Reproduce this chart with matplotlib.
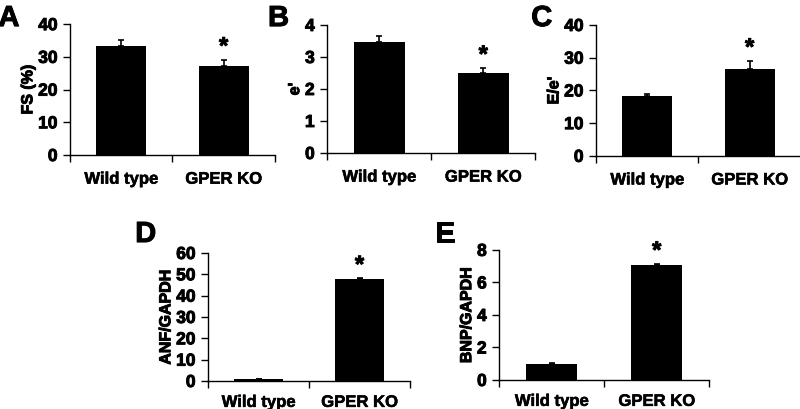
import matplotlib
matplotlib.use("Agg")
import matplotlib.pyplot as plt
import matplotlib.patheffects as pe
from matplotlib.ticker import FixedLocator, NullFormatter, FixedFormatter
from matplotlib.font_manager import FontProperties

plt.rcParams['font.family'] = ['Liberation Sans', 'DejaVu Sans']
plt.rcParams['font.weight'] = 'bold'
plt.rcParams['axes.labelweight'] = 'bold'

groups = ["Wild type", "GPER KO"]

fs_vals = [33.4, 27.1]
fs_err = [1.7, 2.0]
e_vals = [3.46, 2.51]
e_err = [0.21, 0.14]
ee_vals = [18.3, 26.6]
ee_err = [0.6, 2.4]
anf_vals = [1.0, 47.7]
anf_err = [0.1, 0.4]
bnp_vals = [1.0, 7.08]
bnp_err = [0.02, 0.05]

panels = [
    dict(letter="A", vals=fs_vals, err=fs_err, ylabel="FS (%)", ymax=40, yticks=[0, 10, 20, 30, 40],
         rect=[0.0875, 0.621, 0.256, 0.320], lpos=(-0.002, 0.99), pad=12),
    dict(letter="B", vals=e_vals, err=e_err, ylabel="e'", ymax=4, yticks=[0, 1, 2, 3, 4],
         rect=[0.409, 0.626, 0.260, 0.313], lpos=(0.335, 0.99), pad=12),
    dict(letter="C", vals=ee_vals, err=ee_err, ylabel="E/e'", ymax=40, yticks=[0, 10, 20, 30, 40],
         rect=[0.745, 0.619, 0.256, 0.320], lpos=(0.664, 0.99), pad=12),
    dict(letter="D", vals=anf_vals, err=anf_err, ylabel="ANF/GAPDH", ymax=60, yticks=[0, 10, 20, 30, 40, 50, 60],
         rect=[0.26, 0.0685, 0.2525, 0.313], lpos=(0.169, 0.462), pad=10),
    dict(letter="E", vals=bnp_vals, err=bnp_err, ylabel="BNP/GAPDH", ymax=8, yticks=[0, 2, 4, 6, 8],
         rect=[0.624, 0.071, 0.2625, 0.318], lpos=(0.544, 0.462), pad=10),
]

def fp(size):
    return FontProperties(family=['Liberation Sans', 'DejaVu Sans'], weight='bold', size=size)

heavy = [pe.withStroke(linewidth=0.7, foreground="black")]
light = [pe.withStroke(linewidth=0.4, foreground="black")]

fig = plt.figure(figsize=(8, 4.09), dpi=100)

for p in panels:
    ax = fig.add_axes(p["rect"])
    x = [0, 1]
    ax.bar(x, p["vals"], width=0.49, color="black", zorder=2)
    ax.errorbar(x, p["vals"], yerr=[[0, 0], p["err"]], fmt="none", ecolor="black",
                elinewidth=1.2, capsize=2, capthick=1.2, zorder=3)
    ax.set_xlim(-0.5, 1.5)
    ax.set_ylim(0, p["ymax"])
    ax.set_yticks(p["yticks"])
    ax.set_yticklabels([str(t) for t in p["yticks"]])
    for lab in ax.get_yticklabels():
        lab.set_fontproperties(fp(12.5))
        lab.set_path_effects(heavy)
    ax.xaxis.set_major_locator(FixedLocator([-0.5, 0.5, 1.5]))
    ax.xaxis.set_major_formatter(NullFormatter())
    ax.xaxis.set_minor_locator(FixedLocator([0, 1]))
    ax.xaxis.set_minor_formatter(FixedFormatter(groups))
    ax.tick_params(axis="x", which="minor", length=0, pad=p["pad"])
    for lab in ax.get_xticklabels(minor=True):
        lab.set_fontproperties(fp(12))
        lab.set_path_effects(light)
    ax.tick_params(axis="x", which="major", length=5, width=1, direction="out")
    ax.tick_params(axis="y", length=5, width=1, direction="out", pad=4)
    for s in ["top", "right"]:
        ax.spines[s].set_visible(False)
    for s in ["left", "bottom"]:
        ax.spines[s].set_linewidth(1)
    yl = ax.set_ylabel(p["ylabel"], fontproperties=fp(11.5), labelpad=2)
    yl.set_path_effects(heavy)
    top = p["vals"][1] + p["err"][1]
    ax.annotate("*", xy=(1, top), xytext=(0, 1), textcoords="offset points",
                ha="center", va="bottom", fontproperties=fp(17), path_effects=heavy)
    fig.text(p["lpos"][0], p["lpos"][1], p["letter"], fontproperties=fp(21),
             ha="left", va="top", path_effects=heavy)

fig.savefig("out.png", dpi=100)
